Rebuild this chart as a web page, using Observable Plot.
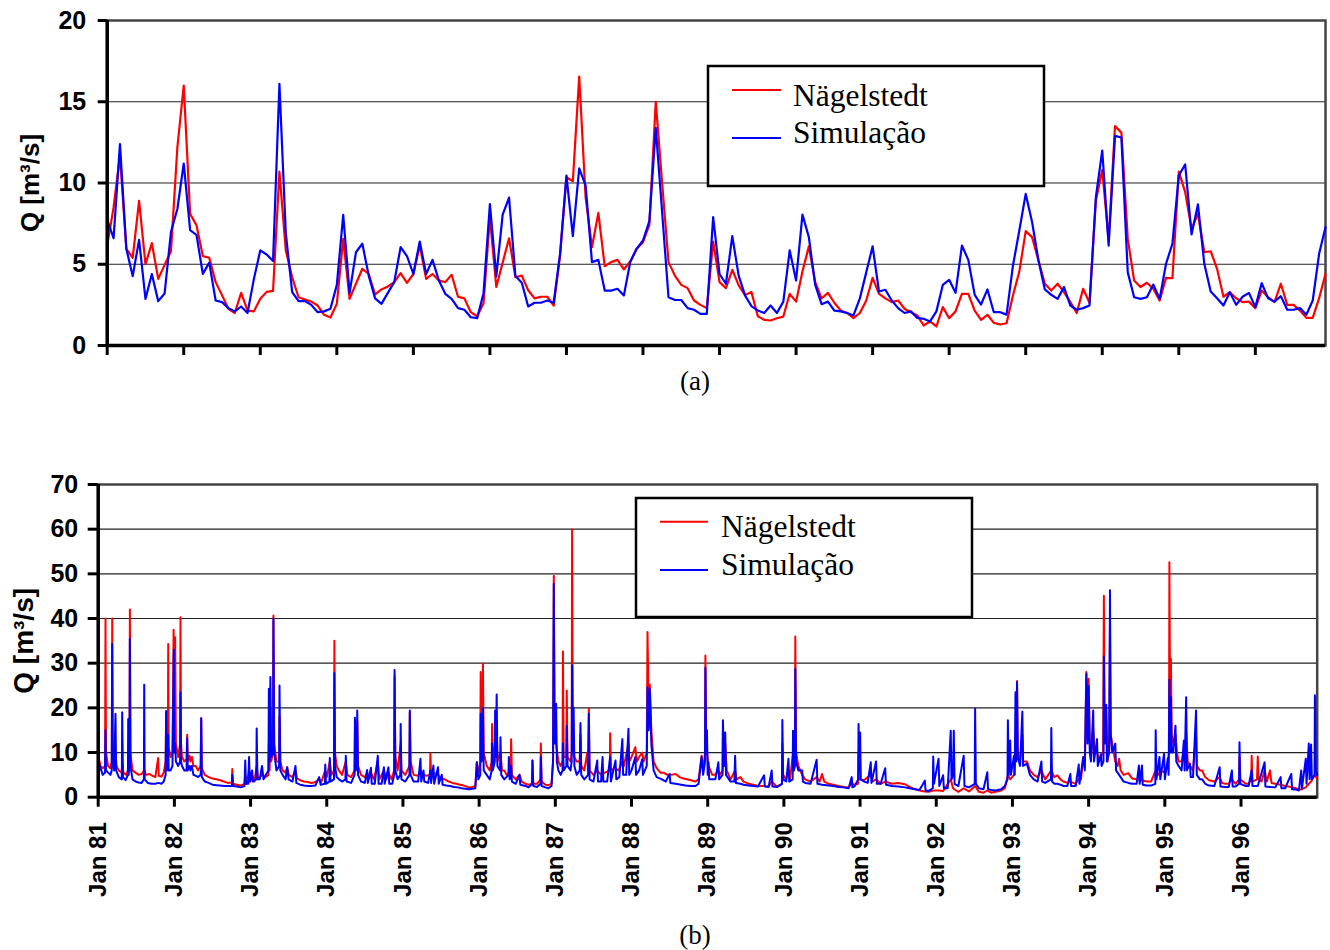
<!DOCTYPE html>
<html><head><meta charset="utf-8">
<script src="https://cdn.jsdelivr.net/npm/d3@7"></script>
<script src="https://cdn.jsdelivr.net/npm/@observablehq/plot@0.6"></script>
<style>
body{margin:0;background:#fff;}
#wrap{position:relative;width:1330px;height:950px;overflow:hidden;background:#fff;}
#wrap svg{position:absolute;left:0;}
</style></head>
<body><div id="wrap"></div>
<script>
// ---------- DATA ----------
const seriesNames = ["Nägelstedt", "Simulação"];
const captions = ["(a)", "(b)"];
const yTitle = "Q [m³/s]";
const monthlyYTicks = [0, 5, 10, 15, 20];
const dailyYTicks = [0, 10, 20, 30, 40, 50, 60, 70];
const yearTicks = [81, 82, 83, 84, 85, 86, 87, 88, 89, 90, 91, 92, 93, 94, 95, 96];

// (a) monthly means, Jan 1981 .. Dec 1996
const obsMonthly = [6.15,8.5,11.7,5.95,5.4,8.9,5.0,6.3,4.1,4.96,5.8,12.2,
16.0,8.1,7.4,5.5,5.4,3.9,3.1,2.26,2.0,3.24,2.15,2.1,
2.87,3.3,3.36,10.7,5.85,4.2,2.97,2.83,2.7,2.46,1.89,1.72,
2.56,6.56,2.87,3.8,4.72,4.4,3.14,3.45,3.63,3.9,4.45,3.86,
4.4,6.15,4.1,4.4,4.0,3.9,4.35,3.0,2.9,2.05,1.8,2.6,
7.9,3.6,5.1,6.6,4.2,4.3,3.4,2.9,3.0,3.0,2.46,5.54,
10.36,10.1,16.55,9.13,6.05,8.16,4.88,5.13,5.27,4.68,5.17,5.95,
6.36,7.43,15.0,10.0,5.13,4.3,3.73,3.53,2.77,2.5,2.3,6.4,
3.9,3.53,4.66,3.7,3.1,3.3,1.8,1.58,1.54,1.68,1.78,3.18,
2.7,4.55,6.1,3.9,2.9,3.24,2.63,2.15,2.0,1.68,2.0,2.77,
4.16,3.18,2.9,2.67,2.77,2.26,2.05,1.85,1.23,1.48,1.17,2.36,
1.68,2.1,3.18,3.18,2.15,1.58,1.89,1.39,1.29,1.37,3.08,4.55,
7.04,6.67,5.23,3.8,3.38,3.8,3.28,2.67,2.0,3.49,2.63,8.92,
10.8,6.5,13.5,13.1,6.56,4.0,3.6,3.86,3.49,2.77,4.16,4.14,
10.7,9.44,7.18,8.1,5.74,5.8,4.72,3.0,3.28,2.91,2.67,2.7,
2.3,3.38,2.97,2.67,3.8,2.5,2.5,2.15,1.7,1.7,2.91,4.4];
const simMonthly = [7.75,6.6,12.4,5.95,4.27,6.5,2.87,4.4,2.73,3.2,7.0,8.4,
11.2,7.1,6.8,4.4,5.1,2.77,2.67,2.3,2.1,2.4,2.0,4.1,
5.85,5.6,5.2,16.1,6.9,3.28,2.73,2.73,2.5,2.05,2.1,2.26,
3.73,8.04,3.22,5.74,6.26,4.3,2.9,2.56,3.24,3.9,6.05,5.5,
4.4,6.4,4.4,5.27,4.0,3.18,2.87,2.3,2.2,1.74,1.68,3.22,
8.7,4.25,8.06,9.1,4.27,3.86,2.4,2.63,2.63,2.77,2.63,5.64,
10.46,6.73,10.9,9.85,5.13,5.27,3.38,3.38,3.49,3.08,5.13,5.95,
6.46,7.65,13.4,8.2,2.97,2.8,2.8,2.3,2.2,1.95,1.95,7.9,
4.4,3.8,6.73,4.3,3.08,2.42,2.15,2.0,2.46,2.0,2.7,5.85,
4.0,8.06,6.67,3.73,2.54,2.7,2.15,2.1,2.0,1.85,2.9,4.5,
6.1,3.32,3.43,2.77,2.3,2.0,2.1,1.7,1.64,1.48,2.1,3.73,
4.04,3.24,6.15,5.27,3.12,2.52,3.45,2.05,2.05,1.9,4.92,7.08,
9.33,7.6,5.23,3.45,3.12,2.87,3.6,2.46,2.2,2.3,2.46,9.13,
12.0,6.15,12.9,12.8,4.5,2.97,2.87,2.97,3.75,2.87,5.03,6.26,
10.46,11.14,6.83,8.68,5.03,3.32,2.91,2.46,3.28,2.5,3.0,3.24,
2.36,3.84,2.91,2.7,3.04,2.2,2.2,2.3,1.89,2.77,5.64,7.28];
const monthTicks = [0,12,24,36,48,60,72,84,96,108,120,132,144,156,168,180];

// (b) daily series read as [year (19xx, decimal), Q]
const obsDaily = [[81.000,25.5],[81.004,9],[81.03,7],[81.06,6.5],[81.09,7],[81.096,40],[81.102,10],[81.13,7],[81.16,6.5],[81.178,8],[81.184,40],[81.19,12],[81.21,8],[81.227,10],[81.24,7],[81.27,6],[81.31,5.5],[81.315,8],[81.33,5.5],[81.37,5],[81.39,6],[81.41,12],[81.416,42],[81.423,10],[81.45,6],[81.49,5.5],[81.53,5],[81.57,5.2],[81.604,6],[81.63,5],[81.67,5.2],[81.71,4.8],[81.75,4.5],[81.787,8.8],[81.795,4.8],[81.83,4.6],[81.86,5.5],[81.885,8],[81.892,19],[81.90,8],[81.915,10],[81.919,34.3],[81.925,11],[81.95,9],[81.975,10],[81.99,37.5],[82.0,14],[82.01,35.8],[82.02,12],[82.05,9],[82.075,12],[82.08,40.3],[82.087,12],[82.10,9],[82.13,8],[82.16,8.5],[82.168,14],[82.175,8],[82.2,9.3],[82.21,8],[82.23,9],[82.25,7],[82.28,7],[82.31,6],[82.345,7],[82.352,17.7],[82.36,6.5],[82.4,5],[82.45,4.5],[82.5,4.2],[82.55,4],[82.6,3.8],[82.65,3.5],[82.7,3.2],[82.755,3.3],[82.76,6.3],[82.77,3],[82.82,2.8],[82.87,2.6],[82.92,3],[82.93,5],[82.95,3],[82.98,6],[83.0,3.5],[83.02,5],[83.05,3.5],[83.08,7],[83.1,4],[83.15,5],[83.2,4.5],[83.235,5],[83.24,12],[83.25,6],[83.26,20],[83.27,8],[83.295,10],[83.30,40.7],[83.31,12],[83.34,8],[83.375,8],[83.38,18],[83.39,8],[83.42,6],[83.46,5.5],[83.48,6.7],[83.5,5],[83.55,4.5],[83.59,6],[83.61,4.2],[83.65,3.8],[83.7,3.5],[83.75,3.4],[83.8,3.2],[83.85,3.4],[83.9,4],[83.93,3.5],[83.98,6],[84.0,4.5],[84.04,8],[84.06,5],[84.095,6],[84.10,35],[84.108,10],[84.13,7],[84.16,6],[84.2,5],[84.25,8],[84.27,5],[84.32,4.5],[84.365,6],[84.37,15],[84.385,7],[84.40,17],[84.41,7],[84.45,5],[84.5,4.5],[84.53,5.5],[84.56,4.2],[84.58,5.5],[84.62,4],[84.67,8],[84.69,4],[84.75,6],[84.78,4],[84.81,5.5],[84.85,4],[84.885,6],[84.89,27],[84.9,9],[84.93,6],[84.97,12],[84.98,6],[85.03,5],[85.085,7],[85.09,19],[85.1,8],[85.14,5],[85.2,4.8],[85.23,6],[85.27,5],[85.31,4.8],[85.355,5],[85.36,9.7],[85.37,5],[85.4,5.5],[85.46,5],[85.5,4.2],[85.55,4],[85.6,3.5],[85.65,3.2],[85.7,3],[85.75,2.8],[85.8,2.6],[85.85,2.3],[85.9,2.2],[85.95,2.5],[85.97,7.8],[85.99,5],[86.015,8],[86.02,28],[86.03,15],[86.045,20],[86.05,29.9],[86.06,10],[86.1,7],[86.14,6],[86.165,8],[86.17,16.4],[86.18,8],[86.21,12],[86.23,17],[86.24,8],[86.28,10],[86.3,6],[86.33,6],[86.36,5],[86.415,6],[86.42,13],[86.43,5],[86.48,4],[86.53,5],[86.56,3.5],[86.61,3],[86.65,2.8],[86.695,3],[86.70,8.2],[86.71,3],[86.76,3],[86.805,4],[86.81,12],[86.82,3.5],[86.87,2.8],[86.91,2.7],[86.95,3],[86.97,8],[86.98,49.6],[86.99,15],[87.01,12],[87.04,8],[87.07,7],[87.095,8],[87.10,32.6],[87.11,9],[87.145,9],[87.15,23.9],[87.16,9],[87.2,8],[87.215,10],[87.22,59.9],[87.23,12],[87.25,9],[87.28,8],[87.32,8],[87.33,14],[87.34,7],[87.38,6],[87.42,10],[87.43,6],[87.44,19.8],[87.45,6],[87.5,5],[87.55,6],[87.6,5],[87.65,5.5],[87.715,6],[87.72,14.3],[87.73,6],[87.78,6.5],[87.83,6],[87.88,8],[87.9,7],[87.96,12],[87.97,8],[88.0,9],[88.05,11.2],[88.07,8],[88.1,9],[88.14,10],[88.16,8],[88.2,10],[88.21,37],[88.225,20],[88.24,25.2],[88.26,15],[88.29,8],[88.33,6.5],[88.38,5.5],[88.42,5.5],[88.47,5],[88.52,5],[88.58,5.2],[88.63,4.5],[88.68,4.2],[88.73,4],[88.78,3.8],[88.84,3.5],[88.88,4],[88.92,9.3],[88.94,6],[88.965,10],[88.97,31.7],[88.98,12],[89.01,7],[89.06,5],[89.1,5],[89.14,6],[89.16,5],[89.195,6],[89.20,15],[89.215,8],[89.23,12],[89.25,6],[89.3,4],[89.36,6],[89.38,4],[89.43,4.5],[89.47,3.5],[89.54,3],[89.6,2.8],[89.66,2.5],[89.74,2.5],[89.8,2.4],[89.84,3.5],[89.91,2.3],[89.975,3],[89.98,12],[89.99,5],[90.03,4],[90.06,6],[90.08,4],[90.12,10],[90.13,6],[90.145,8],[90.15,36],[90.16,10],[90.19,7],[90.24,5],[90.28,4],[90.35,3.5],[90.43,4.5],[90.47,3.5],[90.5,5.2],[90.53,3.5],[90.59,3],[90.65,2.8],[90.72,2.5],[90.78,2.3],[90.85,2.2],[90.89,3],[90.93,2.8],[90.975,3],[90.98,9.7],[90.99,4],[91.05,3.8],[91.14,5],[91.16,3.5],[91.21,4],[91.27,3],[91.33,3.5],[91.42,3],[91.5,3.2],[91.59,2.9],[91.65,2.3],[91.72,1.8],[91.78,1.5],[91.85,1.3],[91.9,1.2],[91.96,1.5],[92.03,1.5],[92.09,1.4],[92.19,4],[92.22,2],[92.26,1.5],[92.29,1.2],[92.36,2],[92.43,1.3],[92.51,2.5],[92.56,1.2],[92.62,1],[92.67,1.5],[92.72,1],[92.78,1.2],[92.85,1.5],[92.9,2],[92.94,5],[92.97,4],[93.02,5],[93.04,10],[93.055,12],[93.06,26],[93.07,10],[93.1,8],[93.13,14],[93.14,8],[93.19,8],[93.23,6],[93.28,5],[93.33,4.5],[93.38,6],[93.43,4],[93.51,6],[93.55,4.5],[93.59,4.9],[93.63,4],[93.67,3.5],[93.72,3.2],[93.76,3.5],[93.83,3],[93.87,4],[93.9,4],[93.93,9],[93.95,8],[93.97,28],[93.985,15],[94.0,26.5],[94.015,12],[94.03,9],[94.06,15],[94.08,10],[94.11,10],[94.14,8],[94.16,9],[94.19,10],[94.20,45.1],[94.21,15],[94.23,20],[94.25,8],[94.27,12],[94.28,38],[94.29,14],[94.31,12],[94.35,8],[94.38,7],[94.4,8.6],[94.42,6],[94.46,5],[94.52,5.4],[94.57,4.2],[94.63,4],[94.7,3.8],[94.76,3.5],[94.82,3.5],[94.88,6],[94.91,5],[94.95,6],[95.0,5.5],[95.04,7],[95.055,10],[95.06,52.6],[95.07,18],[95.08,31],[95.09,14],[95.11,12],[95.14,14],[95.16,10],[95.18,8],[95.22,8],[95.25,10],[95.27,8],[95.28,15],[95.3,8],[95.33,7],[95.37,6],[95.41,14],[95.42,7],[95.46,6],[95.49,6],[95.53,4.5],[95.58,3.8],[95.65,3.5],[95.72,4.5],[95.75,3.2],[95.79,3],[95.84,3],[95.88,4],[95.93,3],[95.975,4],[95.98,9],[95.99,4],[96.06,3],[96.1,3],[96.135,4],[96.14,9.3],[96.15,3.5],[96.21,4],[96.22,9.1],[96.23,4],[96.27,3.5],[96.31,6],[96.34,3.5],[96.38,6],[96.4,3.2],[96.45,3],[96.52,2.8],[96.58,2.5],[96.66,2.3],[96.72,2],[96.76,1.7],[96.8,1.8],[96.85,2.2],[96.89,3],[96.92,3.5],[96.97,5],[97.0,4.1]];

const simDaily = [[81.000,23],[81.004,8],[81.03,6.5],[81.06,5],[81.09,5.5],[81.096,15],[81.102,6],[81.13,5.5],[81.16,5],[81.178,6],[81.184,34.3],[81.19,9],[81.21,6],[81.227,18.7],[81.235,6],[81.27,4.5],[81.31,4],[81.315,19],[81.325,4.5],[81.36,3.8],[81.39,5],[81.394,17.5],[81.40,5],[81.412,8],[81.416,35.4],[81.423,7],[81.45,4],[81.49,3.5],[81.53,3.3],[81.57,3.2],[81.60,4],[81.604,25.2],[81.61,4],[81.65,3.2],[81.7,3],[81.75,3],[81.79,3.2],[81.83,3],[81.86,3.5],[81.885,5],[81.892,19.3],[81.90,6],[81.915,7],[81.919,14],[81.925,6],[81.95,6],[81.975,7],[81.993,33],[82.0,10],[82.01,12],[82.02,8],[82.05,7],[82.075,8],[82.08,23.5],[82.087,8],[82.10,7],[82.13,6],[82.16,6],[82.168,13.2],[82.175,6],[82.2,7],[82.21,6],[82.23,7],[82.25,5],[82.28,4.8],[82.31,4.5],[82.345,5],[82.352,17.7],[82.36,4.5],[82.4,3.5],[82.45,3.2],[82.5,2.8],[82.55,2.7],[82.6,2.6],[82.65,2.5],[82.7,2.5],[82.755,2.5],[82.76,5],[82.77,2.5],[82.82,2.4],[82.87,2.2],[82.92,2.5],[82.93,8.2],[82.94,3],[82.97,3],[82.98,9],[82.99,3.5],[83.02,6],[83.03,3.5],[83.075,4],[83.08,15.4],[83.09,4],[83.12,4],[83.15,7],[83.17,4],[83.2,5],[83.235,6],[83.24,24.3],[83.25,8],[83.255,10],[83.26,26.9],[83.27,9],[83.295,10],[83.30,40],[83.31,10],[83.34,6],[83.375,7],[83.38,25],[83.39,6],[83.42,5],[83.46,4],[83.48,6.7],[83.5,4],[83.55,3.5],[83.59,7],[83.6,3.2],[83.65,2.8],[83.7,2.6],[83.75,2.5],[83.8,2.5],[83.85,2.6],[83.9,4.5],[83.92,2.8],[83.975,3],[83.98,7.3],[83.99,3],[84.035,3.5],[84.04,8.8],[84.05,3.5],[84.095,4],[84.10,27.8],[84.108,7],[84.13,4.5],[84.16,4],[84.2,3.5],[84.245,4],[84.25,9.3],[84.26,3.5],[84.32,3.2],[84.365,5],[84.37,17.8],[84.38,6],[84.395,7],[84.40,19.4],[84.41,5],[84.45,3.5],[84.5,3.2],[84.53,6.1],[84.54,3.2],[84.58,6.6],[84.59,3],[84.63,3],[84.67,9.3],[84.68,3],[84.72,3],[84.75,6.7],[84.76,3],[84.81,6.7],[84.82,3],[84.86,3],[84.885,5],[84.89,28.5],[84.9,6],[84.93,4],[84.965,5],[84.97,16.4],[84.98,4],[85.03,3.5],[85.085,5],[85.09,19.4],[85.1,5],[85.14,3.5],[85.2,3.5],[85.23,8.6],[85.24,3.5],[85.27,6],[85.28,3.5],[85.33,3.2],[85.36,6],[85.37,3.2],[85.4,7.1],[85.41,3],[85.46,6.7],[85.47,3],[85.51,5],[85.52,2.8],[85.57,2.6],[85.62,2.5],[85.67,2.3],[85.72,2.2],[85.77,2],[85.82,1.9],[85.87,1.8],[85.91,1.9],[85.95,2],[85.97,7.8],[85.99,4],[86.015,5],[86.02,18.7],[86.03,8],[86.045,10],[86.05,20],[86.06,6],[86.1,5],[86.14,4],[86.165,6],[86.17,12],[86.18,6],[86.205,8],[86.21,19.4],[86.22,9],[86.23,23],[86.24,7],[86.275,6],[86.28,13.4],[86.29,5],[86.33,4],[86.385,5],[86.39,9],[86.40,4],[86.42,7],[86.43,3.5],[86.48,3],[86.53,5],[86.54,2.8],[86.61,2.5],[86.65,2.2],[86.695,3],[86.70,8.2],[86.71,2.5],[86.76,2.3],[86.805,3],[86.81,9],[86.82,2.5],[86.87,2.2],[86.91,2],[86.95,2.5],[86.97,8],[86.98,47.8],[86.99,12],[87.01,20.9],[87.02,8],[87.04,6],[87.07,5],[87.095,6],[87.10,12],[87.11,6],[87.145,7],[87.15,16],[87.16,7],[87.2,6],[87.215,8],[87.22,29.5],[87.23,10],[87.24,20],[87.25,7],[87.28,5],[87.32,6],[87.33,16.6],[87.34,5],[87.38,4],[87.43,5],[87.44,18.7],[87.45,4],[87.5,3.5],[87.55,8.2],[87.56,3.5],[87.6,3.5],[87.62,9],[87.63,3.5],[87.68,3.5],[87.72,9],[87.73,3.5],[87.79,8.2],[87.80,4],[87.84,4.5],[87.88,13],[87.89,5],[87.93,5],[87.96,15.3],[87.97,5],[88.0,6],[88.05,9],[88.06,5],[88.1,6],[88.14,8.5],[88.15,5],[88.2,7],[88.21,24.6],[88.225,15],[88.24,24.3],[88.26,12],[88.29,6],[88.33,4.5],[88.4,4],[88.45,3.5],[88.5,5.2],[88.51,3.2],[88.58,3],[88.65,2.8],[88.71,2.6],[88.78,2.5],[88.84,2.5],[88.88,3],[88.92,9],[88.94,5],[88.965,8],[88.97,29],[88.98,10],[88.99,15],[89.0,5],[89.01,7.8],[89.02,4],[89.06,4],[89.1,4],[89.14,7.8],[89.15,4],[89.195,5],[89.20,17.2],[89.215,7],[89.23,14.5],[89.24,5],[89.3,3.5],[89.35,3.5],[89.36,9.3],[89.37,3.2],[89.43,3],[89.47,2.8],[89.54,2.6],[89.6,2.5],[89.66,2.4],[89.74,4.9],[89.75,2.4],[89.8,2.3],[89.84,6],[89.85,2.4],[89.91,2.3],[89.975,3],[89.98,17.3],[89.99,4],[90.03,3.5],[90.06,8.6],[90.07,3.5],[90.115,4],[90.12,14.9],[90.13,6],[90.145,7],[90.15,28.7],[90.16,8],[90.19,6],[90.24,6],[90.25,3.5],[90.28,3.2],[90.35,3],[90.43,8.4],[90.44,3],[90.5,2.8],[90.59,2.6],[90.65,2.5],[90.72,2.3],[90.78,2.2],[90.85,2],[90.89,4.5],[90.9,2.2],[90.93,2.5],[90.975,4],[90.98,16.4],[90.99,6],[91.0,14.5],[91.01,4],[91.05,3.5],[91.1,3.2],[91.14,7.8],[91.15,3.2],[91.21,8],[91.22,3],[91.27,3],[91.33,6.5],[91.34,2.8],[91.42,2.5],[91.5,2.4],[91.59,2.2],[91.65,2],[91.72,1.8],[91.78,1.6],[91.85,3.7],[91.86,1.5],[91.9,1.4],[91.955,2],[91.96,9.1],[91.97,3],[92.03,8.6],[92.04,2.5],[92.09,4.9],[92.1,2],[92.15,2],[92.19,14.9],[92.2,4],[92.22,5],[92.23,14.9],[92.24,3],[92.29,2.5],[92.36,9.3],[92.37,2.5],[92.43,2.2],[92.505,3],[92.51,19.8],[92.52,3],[92.56,2],[92.62,1.8],[92.67,5.6],[92.68,1.8],[92.72,1.6],[92.78,1.5],[92.85,1.8],[92.9,2.5],[92.935,4],[92.94,17.2],[92.95,5],[92.97,12.7],[92.98,5],[93.02,9.3],[93.03,5],[93.04,23.5],[93.05,8],[93.06,25.7],[93.07,9],[93.1,7],[93.13,19.2],[93.14,7],[93.19,7.5],[93.23,5],[93.28,4],[93.33,3.5],[93.38,8],[93.39,3.5],[93.43,3.2],[93.505,4],[93.51,15.5],[93.52,3.5],[93.55,3],[93.59,3],[93.63,2.8],[93.67,2.5],[93.72,2.5],[93.76,5.2],[93.77,2.5],[93.83,2.5],[93.87,7.3],[93.88,3],[93.93,9],[93.95,6],[93.97,27.6],[93.985,12],[94.0,24.9],[94.015,10],[94.03,8],[94.06,19.4],[94.07,8],[94.11,13],[94.12,7],[94.16,9.6],[94.17,7],[94.195,8],[94.20,31.5],[94.21,12],[94.23,20.7],[94.24,8],[94.27,10],[94.28,46.3],[94.29,14],[94.31,10],[94.35,12],[94.36,6],[94.4,5],[94.46,3.5],[94.52,3.2],[94.57,3],[94.63,3],[94.66,7.1],[94.67,3],[94.70,7.1],[94.71,2.8],[94.76,2.6],[94.82,2.6],[94.875,3],[94.88,15],[94.89,4],[94.93,9],[94.94,4],[94.99,9.7],[95.0,4],[95.04,8.8],[95.05,5],[95.06,26.3],[95.07,10],[95.08,22.4],[95.09,10],[95.11,10],[95.14,16],[95.15,8],[95.18,7],[95.22,6],[95.25,12.7],[95.26,6],[95.28,22.4],[95.29,6],[95.33,7.5],[95.34,4.5],[95.37,4.5],[95.41,19.4],[95.42,5],[95.46,4],[95.49,4],[95.53,3],[95.58,2.6],[95.65,2.5],[95.72,6.7],[95.73,2.4],[95.79,2.3],[95.84,2.3],[95.88,6],[95.89,2.4],[95.93,2.4],[95.975,3],[95.98,12.3],[95.99,3],[96.06,2.5],[96.1,2.5],[96.14,6],[96.15,2.5],[96.22,2.5],[96.31,7.8],[96.32,2.4],[96.38,2.3],[96.45,2.2],[96.52,4.5],[96.53,2],[96.58,2],[96.66,5.2],[96.67,1.8],[96.72,1.7],[96.76,1.5],[96.79,6],[96.8,2],[96.85,8.6],[96.86,3],[96.89,12],[96.9,4],[96.92,11.8],[96.93,4],[96.965,5],[96.97,22.8],[96.98,6],[97.0,5]];

// ---------- STYLE ----------
const RED = "#ff0000", BLUE = "#0000ff";
const SANS = "'Liberation Sans', Arial, sans-serif";
const SERIF = "'Liberation Serif', 'Times New Roman', serif";
const wrap = document.getElementById("wrap");

// ---------- PANEL (a) ----------
const plotA = Plot.plot({
  width: 1330, height: 370,
  marginLeft: 106.7, marginRight: 5, marginTop: 20, marginBottom: 25,
  style: {fontFamily: SANS, background: "transparent", color: "#000"},
  x: {domain: [0, 191], axis: null},
  y: {domain: [0, 20], axis: null},
  marks: [
    Plot.gridY([5, 10, 15], {stroke: "#222", strokeOpacity: 1, strokeWidth: 1.2}),
    Plot.frame({stroke: "#444", strokeWidth: 2.5}),
    Plot.lineY(obsMonthly, {stroke: RED, strokeWidth: 2.2}),
    Plot.lineY(simMonthly, {stroke: BLUE, strokeWidth: 2.2}),
    Plot.ruleX([0], {stroke: "#000", strokeWidth: 3.5}),
    Plot.ruleY([0], {stroke: "#000", strokeWidth: 3.5}),
    Plot.axisY({ticks: monthlyYTicks, tickSize: 9, tickPadding: 12, strokeWidth: 3, fontSize: 25, fontWeight: "bold", fontFamily: SANS, tickFormat: d => d}),
    Plot.axisX({ticks: monthTicks, tickSize: 10, strokeWidth: 3, tickFormat: () => ""}),
    Plot.text([yTitle], {frameAnchor: "left", dx: -77, rotate: -90, textAnchor: "middle", lineAnchor: "middle", fontSize: 26, fontWeight: "bold", fontFamily: SANS, fill: "#000"})
  ]
});
plotA.style.top = "0px";
wrap.appendChild(plotA);

// ---------- PANEL (b) ----------
const plotB = Plot.plot({
  width: 1330, height: 480,
  marginLeft: 97.7, marginRight: 13.3, marginTop: 20, marginBottom: 147.3,
  style: {fontFamily: SANS, background: "transparent", color: "#000"},
  x: {domain: [81, 97], axis: null},
  y: {domain: [0, 70], axis: null},
  marks: [
    Plot.gridY([10, 20, 30, 40, 50, 60], {stroke: "#222", strokeOpacity: 1, strokeWidth: 1.2}),
    Plot.frame({stroke: "#444", strokeWidth: 2.5}),
    Plot.line(obsDaily, {stroke: RED, strokeWidth: 2}),
    Plot.line(simDaily, {stroke: BLUE, strokeWidth: 2}),
    Plot.ruleX([81], {stroke: "#000", strokeWidth: 3.5}),
    Plot.ruleY([0], {stroke: "#000", strokeWidth: 3.5}),
    Plot.axisY({ticks: dailyYTicks, tickSize: 10, tickPadding: 10, strokeWidth: 3, fontSize: 25, fontWeight: "bold", fontFamily: SANS, tickFormat: d => d}),
    Plot.axisX({ticks: yearTicks, tickSize: 10, tickPadding: 15, strokeWidth: 3, tickRotate: -90, textAnchor: "end", fontSize: 24, fontWeight: "bold", fontFamily: SANS, tickFormat: d => "Jan " + d}),
    Plot.text([yTitle], {frameAnchor: "left", dx: -74, rotate: -90, textAnchor: "middle", lineAnchor: "middle", fontSize: 28, fontWeight: "bold", fontFamily: SANS, fill: "#000"})
  ]
});
plotB.style.top = "464px";
wrap.appendChild(plotB);

// ---------- LEGENDS & CAPTIONS (overlay) ----------
const ns = "http://www.w3.org/2000/svg";
const ov = document.createElementNS(ns, "svg");
ov.setAttribute("width", 1330); ov.setAttribute("height", 950);
ov.style.top = "0px";
function el(tag, attrs, text) {
  const e = document.createElementNS(ns, tag);
  for (const k in attrs) e.setAttribute(k, attrs[k]);
  if (text != null) e.textContent = text;
  ov.appendChild(e); return e;
}
const legendBoxes = [
  {x: 708, y: 66, w: 336, h: 120, lx1: 732, lx2: 781, ly: [90, 138], tx: 793, ty: [105.7, 143.3]},
  {x: 636, y: 498, w: 336, h: 119, lx1: 660, lx2: 708, ly: [521.7, 570], tx: 721, ty: [537.3, 575]}
];
for (const L of legendBoxes) {
  el("rect", {x: L.x, y: L.y, width: L.w, height: L.h, fill: "#fff", stroke: "#000", "stroke-width": 2.5});
  [RED, BLUE].forEach((c, i) => {
    el("line", {x1: L.lx1, x2: L.lx2, y1: L.ly[i], y2: L.ly[i], stroke: c, "stroke-width": 2});
    el("text", {x: L.tx, y: L.ty[i], "font-family": SERIF, "font-size": 31.5, fill: "#000"}, seriesNames[i]);
  });
}
el("text", {x: 695, y: 389.5, "text-anchor": "middle", "font-family": SERIF, "font-size": 27, fill: "#000"}, captions[0]);
el("text", {x: 695, y: 944, "text-anchor": "middle", "font-family": SERIF, "font-size": 27, fill: "#000"}, captions[1]);
wrap.appendChild(ov);
</script>
</body></html>
